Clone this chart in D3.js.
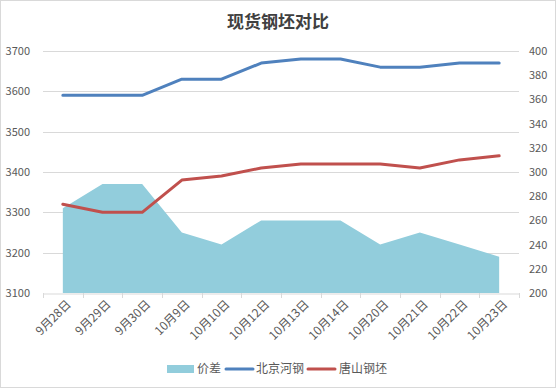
<!DOCTYPE html>
<html><head><meta charset="utf-8">
<script src="https://cdn.jsdelivr.net/npm/d3@7"></script>
<style>body{margin:0;background:#fff}svg{display:block}</style>
</head><body>
<svg id="c" width="556" height="388"></svg>
<script>
const categories = ["9月28日","9月29日","9月30日","10月9日","10月10日","10月12日","10月13日","10月14日","10月20日","10月21日","10月22日","10月23日"];
const beijing = [3590,3590,3590,3630,3630,3670,3680,3680,3660,3660,3670,3670];
const tangshan = [3320,3300,3300,3380,3390,3410,3420,3420,3420,3410,3430,3440];
const spread = [270,290,290,250,240,260,260,260,240,250,240,230];
const leftTicks = [3100,3200,3300,3400,3500,3600,3700];
const rightTicks = [200,220,240,260,280,300,320,340,360,380,400];
const seriesNames = ["价差","北京河钢","唐山钢坯"];

const svg = d3.select("#c");
const font = "'Microsoft YaHei','Noto Sans CJK SC','Noto Sans',sans-serif";
svg.append("rect").attr("x",0.5).attr("y",0.5).attr("width",555).attr("height",387)
  .attr("fill","#fff").attr("stroke","#d9d9d9");

const L=43, R=519, T=51, B=293;
const x = d3.scaleBand().domain(categories).range([L,R]);
const cx = d => x(d)+x.bandwidth()/2;
const yL = d3.scaleLinear().domain([3100,3700]).range([B,T]);
const yR = d3.scaleLinear().domain([200,400]).range([B,T]);

svg.append("text").attr("x",278).attr("y",28).attr("text-anchor","middle")
  .attr("font-family",font).attr("font-weight","bold").attr("font-size",17)
  .attr("fill","#404040").text("现货钢坯对比");

// gridlines
svg.append("g").selectAll("line").data(leftTicks.slice(1)).join("line")
  .attr("x1",L).attr("x2",R).attr("y1",d=>Math.round(yL(d))+0.5).attr("y2",d=>Math.round(yL(d))+0.5)
  .attr("stroke","#d9d9d9");

// area
const area = d3.area().x((d,i)=>cx(categories[i])).y0(yR(200)).y1(d=>yR(d));
svg.append("path").datum(spread).attr("d",area).attr("fill","#92cddc");

// x axis
const xa = svg.append("g").attr("transform",`translate(0,${Math.round(B)+0.5})`)
  .call(d3.axisBottom(x).tickSize(0).tickFormat(""));
xa.select(".domain").attr("stroke","#d9d9d9");
const bounds = categories.map(c=>x(c)).concat([R]);
svg.append("g").selectAll("line").data(bounds).join("line")
  .attr("x1",d=>Math.round(d)+0.5).attr("x2",d=>Math.round(d)+0.5)
  .attr("y1",B).attr("y2",B+5).attr("stroke","#d9d9d9");
svg.append("g").selectAll("text").data(categories).join("text")
  .attr("transform",d=>`translate(${cx(d)+6},${B+9}) rotate(-45)`)
  .attr("text-anchor","end").attr("dy","0.35em")
  .attr("font-family",font).attr("font-size",12).attr("fill","#595959").text(d=>d);

// y axes labels
const la = svg.append("g").attr("transform",`translate(${L-10},0)`)
  .call(d3.axisLeft(yL).tickValues(leftTicks).tickSize(0).tickFormat(d3.format("d")));
la.select(".domain").remove();
la.selectAll("text").attr("font-family",font).attr("font-size",11).attr("fill","#595959");
const ra = svg.append("g").attr("transform",`translate(${R+7},0)`)
  .call(d3.axisRight(yR).tickValues(rightTicks).tickSize(0).tickFormat(d3.format("d")));
ra.select(".domain").remove();
ra.selectAll("text").attr("font-family",font).attr("font-size",11).attr("fill","#595959");

// lines
const line = d3.line().x((d,i)=>cx(categories[i])).y(d=>yL(d));
svg.append("path").datum(beijing).attr("d",line).attr("fill","none")
  .attr("stroke","#4f81bd").attr("stroke-width",3).attr("stroke-linejoin","round").attr("stroke-linecap","round");
svg.append("path").datum(tangshan).attr("d",line).attr("fill","none")
  .attr("stroke","#c0504d").attr("stroke-width",3).attr("stroke-linejoin","round").attr("stroke-linecap","round");

// legend
const lg = svg.append("g").attr("font-family",font).attr("font-size",12).attr("fill","#595959");
lg.append("rect").attr("x",167).attr("y",365).attr("width",27).attr("height",8).attr("fill","#92cddc");
lg.append("text").attr("x",197).attr("y",369).attr("dy","0.35em").text(seriesNames[0]);
lg.append("line").attr("x1",226).attr("x2",253).attr("y1",369).attr("y2",369).attr("stroke","#4f81bd").attr("stroke-width",3).attr("stroke-linecap","round");
lg.append("text").attr("x",256).attr("y",369).attr("dy","0.35em").text(seriesNames[1]);
lg.append("line").attr("x1",308).attr("x2",335).attr("y1",369).attr("y2",369).attr("stroke","#c0504d").attr("stroke-width",3).attr("stroke-linecap","round");
lg.append("text").attr("x",339).attr("y",369).attr("dy","0.35em").text(seriesNames[2]);
</script>
</body></html>
